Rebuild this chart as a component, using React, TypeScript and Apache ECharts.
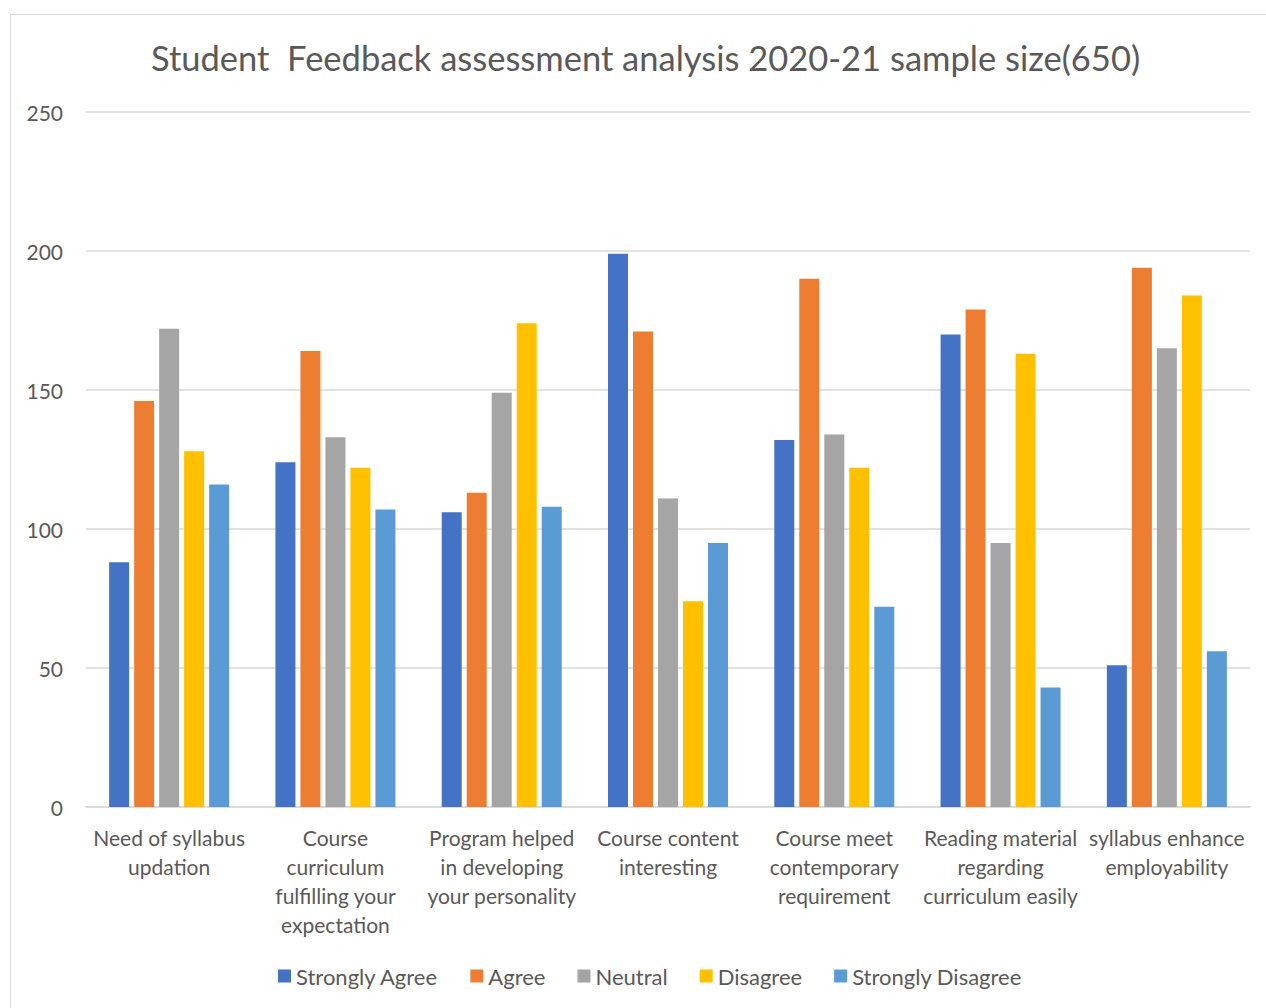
import React, { useEffect, useRef } from "react";
import * as echarts from "echarts";

const categories = [
  "Need of syllabus\nupdation",
  "Course\ncurriculum\nfulfilling your\nexpectation",
  "Program helped\nin developing\nyour personality",
  "Course content\ninteresting",
  "Course meet\ncontemporary\nrequirement",
  "Reading material\nregarding\ncurriculum easily",
  "syllabus enhance\nemployability",
];

const seriesNames = ["Strongly Agree", "Agree", "Neutral", "Disagree", "Strongly Disagree"];
const stronglyAgree = [88, 124, 106, 199, 132, 170, 51];
const agree = [146, 164, 113, 171, 190, 179, 194];
const neutral = [172, 133, 149, 111, 134, 95, 165];
const disagree = [128, 122, 174, 74, 122, 163, 184];
const stronglyDisagree = [116, 107, 108, 95, 72, 43, 56];
const seriesData = [stronglyAgree, agree, neutral, disagree, stronglyDisagree];
const colors = ["#4472C4", "#ED7D31", "#A5A5A5", "#FFC000", "#5B9BD5"];
const titleText = "Student  Feedback assessment analysis 2020-21 sample size(650)";

export default function App() {
  const ref = useRef<HTMLDivElement>(null);
  useEffect(() => {
    if (!ref.current) return;
    const chart = echarts.init(ref.current, null, { renderer: "svg" });
    const font = "Lato, 'Open Sans', sans-serif";
    chart.setOption({
      animation: false,
      backgroundColor: "#ffffff",
      textStyle: { fontFamily: font },
      title: {
        text: titleText,
        left: 151,
        top: 40,
        padding: 0,
        textStyle: { fontFamily: font, fontSize: 34.5, fontWeight: "normal", color: "#595959" },
      },
      graphic: [
        {
          type: "rect",
          shape: { x: 10.5, y: 14.5, width: 1300, height: 1100 },
          style: { fill: "none", stroke: "#d9d9d9", lineWidth: 1 },
          silent: true,
        },
      ],
      legend: {
        bottom: 16,
        left: 273,
        itemWidth: 13,
        itemHeight: 13,
        itemGap: 32,
        icon: "rect",
        textStyle: { fontFamily: font, fontSize: 22, color: "#595959", padding: [0, 0, 0, 0] },
        data: seriesNames,
      },
      grid: { left: 86, right: 16, top: 112, bottom: 201, containLabel: false },
      xAxis: {
        type: "category",
        data: categories,
        axisLine: { lineStyle: { color: "#d9d9d9", width: 1.5 } },
        axisTick: { show: false },
        axisLabel: {
          interval: 0,
          fontFamily: font,
          fontSize: 21,
          color: "#595959",
          lineHeight: 29,
          margin: 16,
          align: "center",
        },
      },
      yAxis: {
        type: "value",
        min: 0,
        max: 250,
        interval: 50,
        axisLine: { show: false },
        axisTick: { show: false },
        splitLine: { lineStyle: { color: "#d9d9d9", width: 1.5 } },
        axisLabel: { fontFamily: font, fontSize: 21, color: "#595959", margin: 23, padding: [0, 0, 3, 0] },
      },
      series: seriesNames.map((name, i) => ({
        name,
        type: "bar",
        data: seriesData[i],
        barWidth: 20,
        barGap: "25%",
        itemStyle: { color: colors[i] },
      })),
    });
    return () => chart.dispose();
  }, []);
  return (
    <div
      ref={ref}
      style={{ position: "fixed", left: 0, top: 0, width: 1266, height: 1008 }}
    />
  );
}
